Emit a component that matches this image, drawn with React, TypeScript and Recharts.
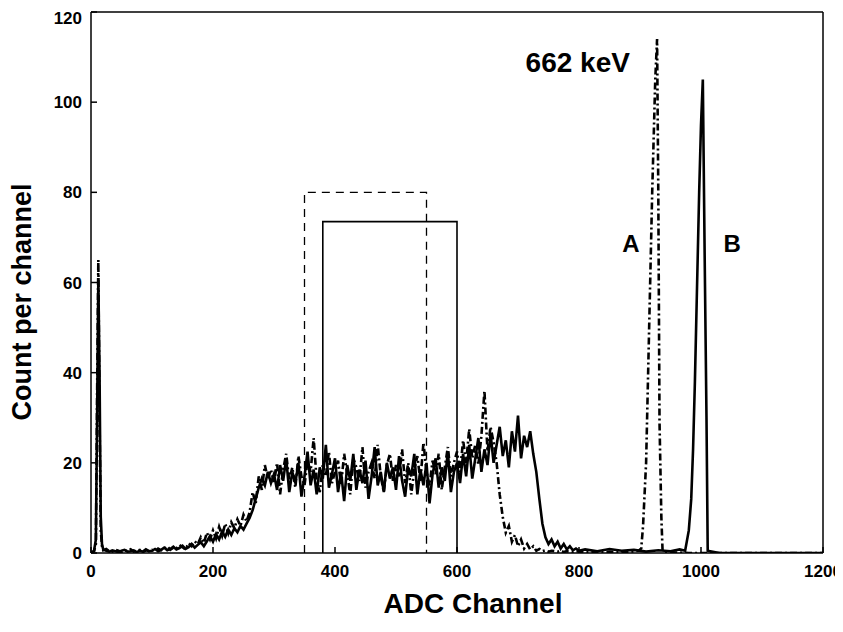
import React from 'react';
import {
  LineChart, Line, XAxis, YAxis, Label, ReferenceDot
} from 'recharts';

// ADC channels of the Compton region (one bin every 5 channels)
const spectrumChannels = [
  20, 25, 30, 35, 40, 45, 50, 55, 60, 65, 70, 75, 80, 85, 90, 95,
  100, 105, 110, 115, 120, 125, 130, 135, 140, 145, 150, 155, 160, 165, 170, 175, 180, 185, 190, 195,
  200, 205, 210, 215, 220, 225, 230, 235, 240, 245, 250, 255, 260, 265, 270, 275, 280, 285, 290, 295,
  300, 305, 310, 315, 320, 325, 330, 335, 340, 345, 350, 355, 360, 365, 370, 375, 380, 385, 390, 395,
  400, 405, 410, 415, 420, 425, 430, 435, 440, 445, 450, 455, 460, 465, 470, 475, 480, 485, 490, 495,
  500, 505, 510, 515, 520, 525, 530, 535, 540, 545, 550, 555, 560, 565, 570, 575, 580, 585, 590, 595,
  600, 605, 610, 615, 620, 625, 630, 635, 640, 645, 650, 655, 660, 665, 670, 675, 680, 685, 690, 695,
  700, 705, 710, 715, 720, 725, 730, 735, 740, 745, 750, 755, 760, 765, 770, 775, 780, 785, 790, 795,
  800,
];

// detector A (dash-dot)
const countsA = [
  0.6, 0.9, 0.4, 0.3, 0.7, 0.5, 0.2, 0.6, 0.4, 0.8, 0.3, 0.5, 0.7, 0.2, 0.6, 0.4,
  0.7, 0.4, 1.0, 0.6, 0.9, 1.5, 0.7, 1.2, 1.0, 1.8, 1.3, 0.8, 2.2, 1.5, 2.6, 1.9, 3.5, 2.2, 4.5, 3.0,
  5.0, 3.2, 5.8, 3.8, 6.5, 4.4, 6.8, 5.5, 7.5, 6.0, 8.5, 7.0, 9.0, 13.5, 11.0, 17.0, 14.0, 19.5, 16.5, 18.5,
  15.5, 20.0, 13.0, 18.5, 22.0, 16.0, 19.0, 14.5, 21.5, 17.0, 15.0, 20.5, 18.0, 25.5, 16.0, 13.5, 19.5, 17.0, 22.5, 15.5,
  18.0, 20.5, 15.0, 22.0, 17.5, 13.0, 21.0, 19.0, 16.0, 23.5, 14.5, 18.0, 20.0, 16.5, 24.0, 17.0, 13.5, 19.5, 22.0, 16.0,
  19.5, 17.0, 23.0, 15.5, 20.0, 13.0, 18.5, 21.5, 16.0, 24.5, 18.0, 15.0, 20.5, 17.5, 22.0, 14.0, 19.0, 23.5, 17.0, 20.0,
  22.5, 18.0, 25.0, 20.0, 27.5, 21.0, 24.0, 19.5, 26.0, 36.0, 22.5, 28.0, 24.5, 20.0, 13.0, 8.0, 4.5, 6.0, 2.5, 4.0,
  1.5, 3.0, 1.0, 2.0, 0.8, 1.5, 0.5, 0.9, 0.4, 0.6, 0.3, 0.5, 0.4, 0.3, 0.5, 0.2, 0.4, 0.3, 0.2, 0.4,
  0.3,
];

// detector B (solid)
const countsB = [
  0.8, 0.5, 0.3, 0.6, 0.4, 0.2, 0.5, 0.7, 0.3, 0.4, 0.6, 0.2, 0.5, 0.3, 0.8, 0.4,
  0.5, 0.9, 0.4, 0.7, 1.2, 0.6, 0.9, 1.4, 0.8, 1.1, 1.6, 0.9, 1.3, 2.0, 1.2, 1.8, 2.4, 1.5, 2.6, 3.8,
  2.5, 4.2, 3.0, 4.8, 3.6, 5.2, 4.0, 5.5, 4.6, 6.0, 5.2, 6.5, 7.8, 9.5, 12.0, 14.5, 16.5, 15.0, 18.0, 15.5,
  17.5, 14.0, 19.5, 16.0, 21.0, 13.5, 18.0, 15.5, 20.0, 12.5, 17.0, 22.5, 15.0, 18.5, 13.0, 19.0, 16.5, 24.0, 14.5, 17.5,
  21.0, 13.5, 18.0, 11.5, 19.5, 16.0, 22.0, 14.0, 18.5, 15.5, 20.5, 12.0, 17.0, 23.5, 15.0, 18.0, 13.5, 20.0, 16.5, 19.0,
  14.0, 21.5, 16.0, 12.5, 19.0, 17.0, 22.0, 13.0, 18.5, 15.0, 20.0, 11.0, 17.5, 21.0, 14.5, 19.0, 16.0, 22.5, 13.5, 18.0,
  20.0, 15.5, 22.0, 17.0, 24.0, 16.5, 21.0, 25.5, 18.0, 23.0, 19.5, 26.5, 20.0, 24.0, 28.0, 21.5, 25.0, 19.0, 27.0, 22.5,
  30.5, 21.0, 26.0, 23.5, 27.0, 22.0, 18.0, 12.0, 6.5, 3.5, 2.0, 3.0, 1.5, 2.5, 1.0, 2.0, 0.8, 1.5, 0.6, 1.0,
  0.5,
];

// low-channel spike
const spikeChannelsA = [0, 5, 8, 10, 12, 14, 16, 18];
const spikeCountsA = [0, 0.4, 2, 35, 65, 30, 5, 1.5];
const spikeChannelsB = [0, 5, 8, 10, 12, 14, 16, 18];
const spikeCountsB = [0, 0.5, 3, 30, 61, 40, 8, 2];

// 662 keV photopeaks
const peakChannelsA = [820, 850, 880, 898, 902, 905, 910, 916, 920, 925, 928, 930, 932, 935, 937, 945, 980, 1100, 1200];
const peakCountsA = [0.2, 0.3, 0.2, 0.5, 1, 6, 20, 56, 80, 105, 114, 80, 29, 8, 0.5, 0.2, 0, 0, 0];
const peakChannelsB = [810, 830, 850, 870, 890, 910, 930, 950, 965, 974, 980, 984, 987, 990, 993, 997, 1000, 1003, 1006, 1009, 1011, 1030, 1100, 1200];
const peakCountsB = [0.8, 0.4, 0.9, 0.5, 0.7, 0.3, 0.6, 0.4, 0.8, 0.5, 5, 12, 23, 38, 56, 80, 95, 105, 66, 30, 0.5, 0, 0, 0];

// gate windows
const gateChannelsA = [350, 350, 550, 550];
const gateCountsA = [0, 80, 80, 0];
const gateChannelsB = [380, 380, 600, 600];
const gateCountsB = [0, 73.5, 73.5, 0];

const xTicks = [0, 200, 400, 600, 800, 1000, 1200];
const yTicks = [0, 20, 40, 60, 80, 100, 120];

const toPoints = (chs: number[], vals: number[]) => chs.map((ch, i) => ({ ch, count: vals[i] }));

const seriesA = [
  ...toPoints(spikeChannelsA, spikeCountsA),
  ...toPoints(spectrumChannels, countsA),
  ...toPoints(peakChannelsA, peakCountsA),
];
const seriesB = [
  ...toPoints(spikeChannelsB, spikeCountsB),
  ...toPoints(spectrumChannels, countsB),
  ...toPoints(peakChannelsB, peakCountsB),
];
const gateA = toPoints(gateChannelsA, gateCountsA);
const gateB = toPoints(gateChannelsB, gateCountsB);

const FONT = '"Liberation Sans", Arial, Helvetica, sans-serif';
const tickStyle = { fill: '#000', fontSize: 17, fontWeight: 'bold', fontFamily: FONT };
const lineStyle = { stroke: '#000', strokeWidth: 1.5 };

const App = () => {
  return (
    <div style={{ width: 835, height: 612, background: '#fff' }}>
      <style>{'html { overflow: hidden; } .recharts-wrapper, .recharts-surface { overflow: visible !important; display: block; }'}</style>
      <LineChart width={835} height={612} margin={{ top: 3, right: 19, bottom: 0, left: 0 }}>
        <XAxis
          dataKey="ch"
          type="number"
          domain={[0, 1200]}
          ticks={xTicks}
          allowDataOverflow
          height={67}
          tickSize={-6}
          tickMargin={18}
          tick={tickStyle}
          axisLine={lineStyle}
          tickLine={lineStyle}
        >
          <Label
            content={() => (
              <text x={465} y={605} textAnchor="middle" fontSize={28} fontWeight="bold" fontFamily={FONT} fill="#000">
                ADC Channel
              </text>
            )}
          />
        </XAxis>
        <XAxis
          xAxisId="top"
          orientation="top"
          dataKey="ch"
          type="number"
          domain={[0, 1200]}
          ticks={xTicks}
          height={1}
          tickSize={-6}
          tickFormatter={() => ''}
          axisLine={lineStyle}
          tickLine={lineStyle}
        />
        <YAxis
          type="number"
          domain={[0, 120]}
          ticks={yTicks}
          allowDataOverflow
          width={83}
          tickSize={-6}
          tickMargin={15}
          tick={tickStyle}
          axisLine={lineStyle}
          tickLine={lineStyle}
        >
          <Label
            content={() => (
              <text
                x={23}
                y={294}
                transform="rotate(-90, 23, 294)"
                textAnchor="middle"
                fontSize={27}
                fontWeight="bold"
                fontFamily={FONT}
                fill="#000"
              >
                Count per channel
              </text>
            )}
          />
        </YAxis>
        <YAxis
          yAxisId="right"
          orientation="right"
          type="number"
          domain={[0, 120]}
          ticks={yTicks}
          width={1}
          tickSize={-6}
          tickFormatter={() => ''}
          axisLine={lineStyle}
          tickLine={lineStyle}
        />

        <Line data={gateA} dataKey="count" type="linear" stroke="#000" strokeWidth={1.3}
          strokeDasharray="8 6" dot={false} isAnimationActive={false} />
        <Line data={gateB} dataKey="count" type="linear" stroke="#000" strokeWidth={1.6}
          dot={false} isAnimationActive={false} />
        <Line data={seriesA} dataKey="count" type="linear" stroke="#000" strokeWidth={2.6}
          strokeDasharray="7 3 2 3" dot={false} isAnimationActive={false} />
        <Line data={seriesB} dataKey="count" type="linear" stroke="#000" strokeWidth={2.6}
          dot={false} isAnimationActive={false} />

        <ReferenceDot x={798} y={109} r={0} fill="none" stroke="none"
          label={{ value: '662 keV', position: 'center', fontSize: 28, fontWeight: 'bold', fontFamily: FONT, fill: '#000' }} />
        <ReferenceDot x={885} y={68.7} r={0} fill="none" stroke="none"
          label={{ value: 'A', position: 'center', fontSize: 24, fontWeight: 'bold', fontFamily: FONT, fill: '#000' }} />
        <ReferenceDot x={1051} y={68.7} r={0} fill="none" stroke="none"
          label={{ value: 'B', position: 'center', fontSize: 24, fontWeight: 'bold', fontFamily: FONT, fill: '#000' }} />
      </LineChart>
    </div>
  );
};

export default App;
